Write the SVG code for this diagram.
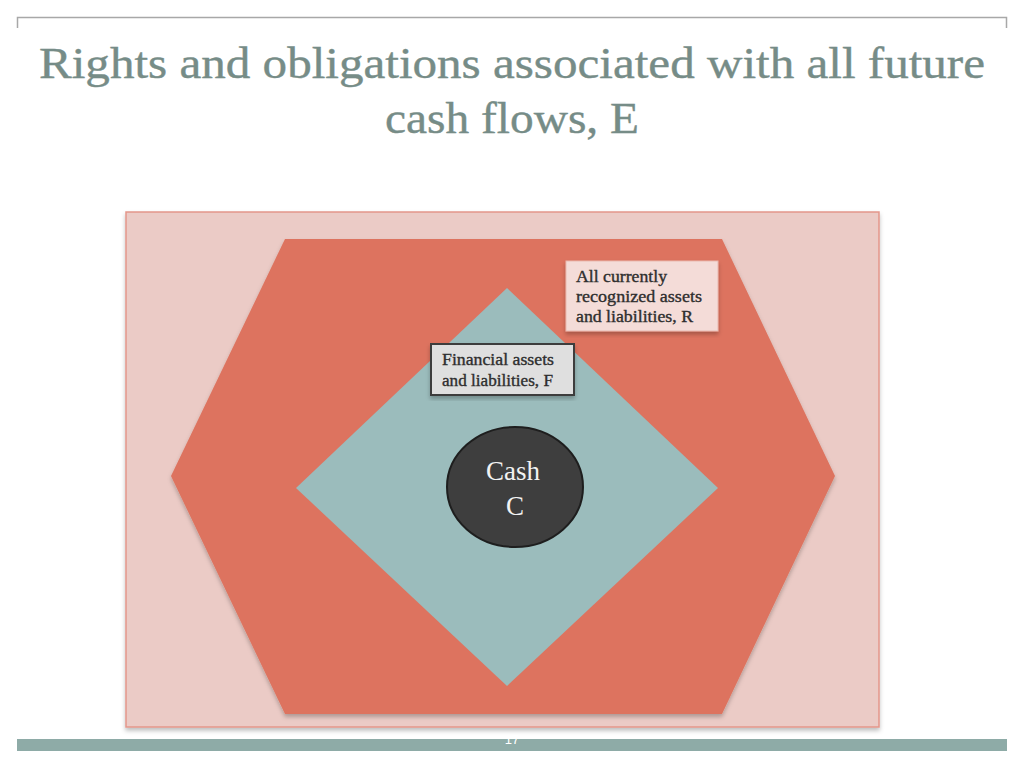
<svg xmlns="http://www.w3.org/2000/svg" width="1024" height="768" viewBox="0 0 1024 768">
<style>
.title{font-family:"Liberation Serif","DejaVu Serif",serif;font-size:45px;fill:#768c87;stroke:#768c87;stroke-width:0.4;text-anchor:middle}
.lbl{font-family:"Liberation Serif","DejaVu Serif",serif;font-size:16.5px;fill:#2e2e2e;stroke:#2e2e2e;stroke-width:0.35}
.cash{font-family:"Liberation Serif","DejaVu Serif",serif;font-size:27px;fill:#f2f2f2;text-anchor:middle}
</style>
<defs>
<filter id="sh" x="-10%" y="-10%" width="120%" height="120%">
<feDropShadow dx="0" dy="3" stdDeviation="2" flood-color="#000" flood-opacity="0.25"/>
</filter>
</defs>
<rect width="1024" height="768" fill="#ffffff"/>
<path d="M17.5 28 V17.5 H1006.5 V28" fill="none" stroke="#a8a8a8" stroke-width="1.5"/>
<g id="title">
<text class="title" x="512" y="78" textLength="946" lengthAdjust="spacingAndGlyphs">Rights and obligations associated with all future</text>
<text class="title" x="512" y="133" textLength="254" lengthAdjust="spacingAndGlyphs">cash flows, E</text>
</g>
<g id="E">
<rect x="126" y="212" width="753" height="515" fill="#ebcbc6" stroke="#e4968a" stroke-width="1.5" filter="url(#sh)"/>
</g>
<g id="R">
<polygon points="285,239 722,239 835,476 722,714 285,714 171,476" fill="#dd735e" filter="url(#sh)"/>
</g>
<g id="F">
<polygon points="507,288 718,488 507,686 296,488" fill="#9bbcbc"/>
</g>
<g id="C">
<ellipse cx="515" cy="487" rx="68" ry="60" fill="#3e3e3e" stroke="#1e1e1e" stroke-width="2"/>
<text class="cash" x="513" y="480">Cash</text>
<text class="cash" x="515" y="515">C</text>
</g>
<g id="labelR">
<rect x="566" y="261" width="152" height="70" fill="#f4dcd8" stroke="#e9b9b0" stroke-width="1" filter="url(#sh)"/>
<text class="lbl" x="576" y="282" textLength="91" lengthAdjust="spacingAndGlyphs">All currently</text>
<text class="lbl" x="576" y="302" textLength="126" lengthAdjust="spacingAndGlyphs">recognized assets</text>
<text class="lbl" x="576" y="322" textLength="117" lengthAdjust="spacingAndGlyphs">and liabilities, R</text>
</g>
<g id="labelF">
<rect x="431" y="344" width="143" height="51" fill="#dfdfdf" stroke="#3c3c3c" stroke-width="2" filter="url(#sh)"/>
<text class="lbl" x="442" y="365" textLength="112" lengthAdjust="spacingAndGlyphs">Financial assets</text>
<text class="lbl" x="442" y="386" textLength="111" lengthAdjust="spacingAndGlyphs">and liabilities, F</text>
</g>
<g id="connectors"></g>
<rect x="17" y="739" width="990" height="12" fill="#8eaba7"/>
<text x="512" y="744" font-family="Liberation Sans, sans-serif" font-size="13" fill="#ffffff" text-anchor="middle">17</text>
</svg>
